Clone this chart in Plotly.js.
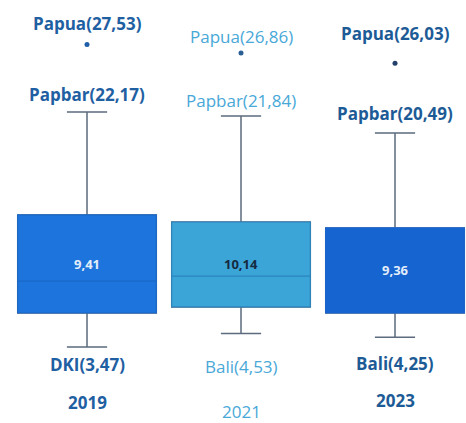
<!DOCTYPE html>
<html>
<head>
<meta charset="utf-8">
<script src="https://cdn.plot.ly/plotly-3.0.1.min.js"></script>
<style>
  html, body { margin: 0; padding: 0; background: #fff; }
  #chart { width: 466px; height: 423px; }
</style>
</head>
<body>
<div id="chart"></div>
<script>
// data
const years = ["2019", "2021", "2023"];
const lowerWhisker = [3.47, 4.53, 4.25];
const q1 = [6.17, 6.65, 6.17];
const median = [8.7, 9.1, 9.0];
const q3 = [13.97, 13.41, 12.94];
const upperWhisker = [22.17, 21.84, 20.49];
const outliers = [27.53, 26.86, 26.03];
const boxLabels = ["9,41", "10,14", "9,36"];
const outlierNames = ["Papua(27,53)", "Papua(26,86)", "Papua(26,03)"];
const upperNames = ["Papbar(22,17)", "Papbar(21,84)", "Papbar(20,49)"];
const lowerNames = ["DKI(3,47)", "Bali(4,53)", "Bali(4,25)"];

// styling
const fillColors = ["#1d74dc", "#3ca5d8", "#1664cf"];
const edgeColors = ["#1a68c6", "#2b84bd", "#1664cf"];
const textColors = ["#1f60a2", "#48a8d8", "#1d5b96"];
const boxTextColors = ["#e3eefb", "#152a40", "#e3eefb"];
const dotColors = ["#1f5fa8", "#2b5f94", "#22406a"];
const fontWeights = ["bold", "normal", "bold"];
const outlierShift = [21, 16, 30];
const upperShift = [17, 16, 20];
const lowerShift = [-18, -33, -26];
const yearRows = [402, 411, 400];

const H = 423;

// gray whiskers (box outlines get covered by the coloured boxes)
let traces = [
  {
    type: "box",
    x: years,
    q1: q1,
    median: median,
    q3: q3,
    lowerfence: lowerWhisker,
    upperfence: upperWhisker,
    width: 0.9,
    whiskerwidth: 0.29,
    fillcolor: "rgba(0,0,0,0)",
    line: { color: "#5c6b7e", width: 1.5 },
    boxpoints: false,
    hoverinfo: "skip",
  },
];

years.forEach(function (yr, i) {
  traces.push({
    type: "box",
    x: [yr],
    q1: [q1[i]],
    median: [median[i]],
    q3: [q3[i]],
    lowerfence: [q1[i]],
    upperfence: [q3[i]],
    width: 0.9,
    whiskerwidth: 0,
    fillcolor: fillColors[i],
    line: { color: edgeColors[i], width: 1.2 },
    boxpoints: false,
  });
});

traces.push({
  type: "scatter",
  mode: "markers",
  x: years,
  y: outliers,
  marker: { size: 5, color: dotColors },
});

// category axis: annotations use the category index
let annotations = [];
years.forEach(function (yr, i) {
  const font = {
    family: "Open Sans, sans-serif",
    size: 17,
    color: textColors[i],
    weight: fontWeights[i],
  };
  annotations.push({
    x: i, y: outliers[i], text: outlierNames[i], showarrow: false,
    yanchor: "middle", yshift: outlierShift[i], font: font,
  });
  annotations.push({
    x: i, y: upperWhisker[i], text: upperNames[i], showarrow: false,
    yanchor: "middle", yshift: upperShift[i], font: font,
  });
  annotations.push({
    x: i, y: lowerWhisker[i], text: lowerNames[i], showarrow: false,
    yanchor: "middle", yshift: lowerShift[i], font: font,
  });
  annotations.push({
    x: i, yref: "paper", y: 1 - yearRows[i] / H,
    text: yr, showarrow: false, yanchor: "middle", font: font,
  });
  annotations.push({
    x: i, y: (q1[i] + q3[i]) / 2, text: boxLabels[i], showarrow: false,
    yanchor: "middle",
    font: {
      family: "Open Sans, sans-serif",
      size: 13,
      color: boxTextColors[i],
      weight: "bold",
    },
  });
});

const layout = {
  width: 466,
  height: 423,
  margin: { l: 0, r: 0, t: 0, b: 0 },
  paper_bgcolor: "#ffffff",
  plot_bgcolor: "#ffffff",
  showlegend: false,
  xaxis: {
    type: "category",
    range: [-0.565, 2.461],
    visible: false,
  },
  yaxis: {
    range: [-2.58, 31.07],
    visible: false,
  },
  annotations: annotations,
};

Plotly.newPlot("chart", traces, layout, { displayModeBar: false, staticPlot: true });
</script>
</body>
</html>
